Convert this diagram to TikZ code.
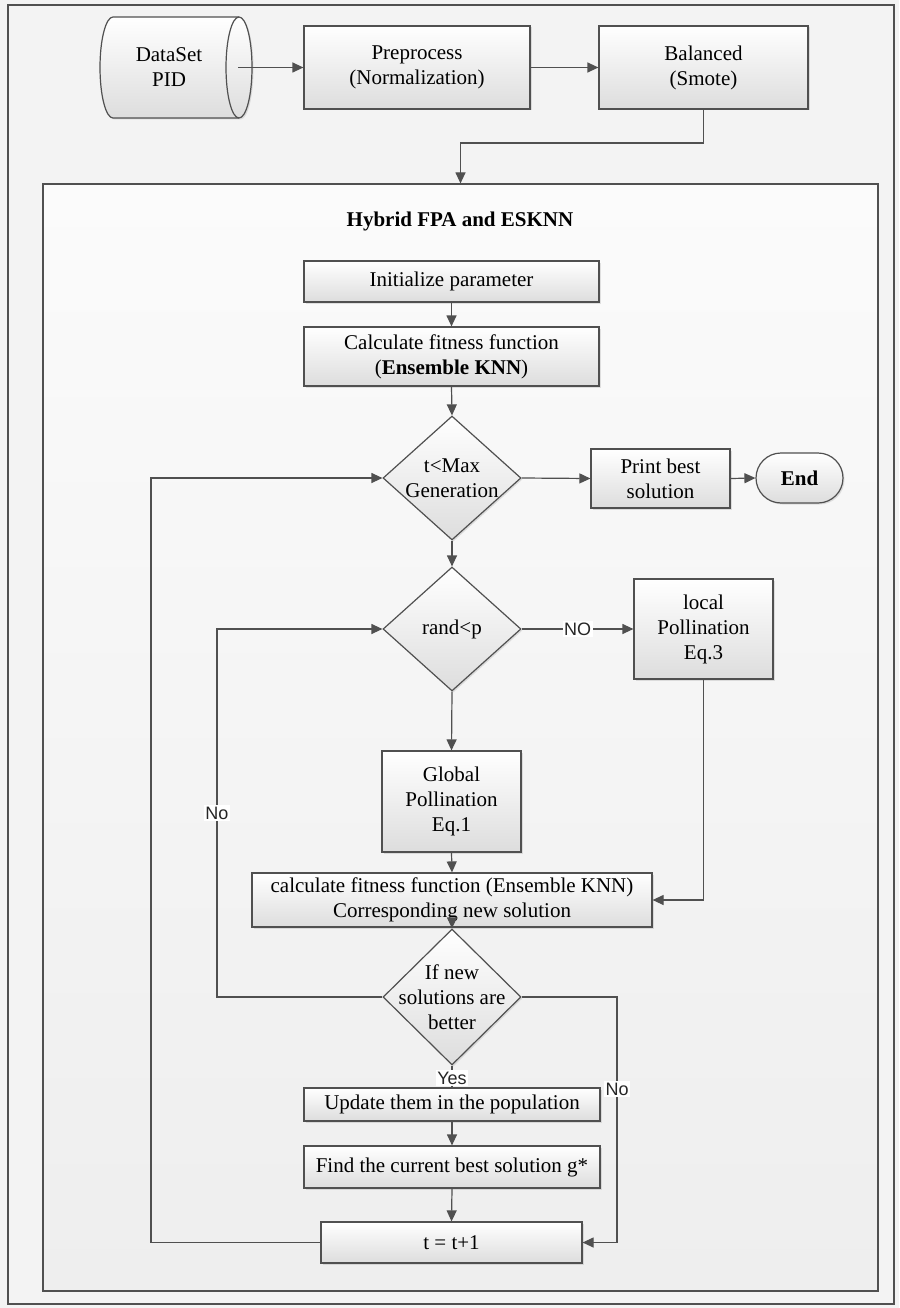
\documentclass[tikz,border=0pt]{standalone}
\usepackage{fontspec}
\setmainfont{Liberation Serif}
\newfontfamily\lblfont{Liberation Sans}
\usetikzlibrary{shapes.geometric,arrows.meta,shadows,calc}
\definecolor{ln}{HTML}{505050}
\definecolor{boxbot}{HTML}{DDDDDD}
\definecolor{bg}{HTML}{F3F3F3}
\definecolor{frtop}{HTML}{FBFBFB}
\definecolor{frbot}{HTML}{EEEEEE}
\begin{document}
\begin{tikzpicture}[x=1pt,y=-1pt,
  base/.style={draw=ln, line width=1.2pt, top color=white, bottom color=boxbot,
    font=\fontsize{21}{25}\selectfont, align=center, inner sep=0pt,
    drop shadow={shadow xshift=1.5pt, shadow yshift=-1.5pt, opacity=0.22}},
  box/.style={base, rectangle},
  dia/.style={base, diamond},
  term/.style={base, rectangle, rounded corners=25pt},
  txt/.style={font=\fontsize{21}{25}\selectfont, align=center, inner sep=0pt},
  arr/.style={draw=ln, line width=1.2pt, -{Triangle[length=11pt,width=10pt]}},
  conn/.style={draw=ln, line width=1.2pt},
  lbl/.style={font=\lblfont\fontsize{18}{20}\selectfont, fill=white, inner sep=1.5pt, text=black!85}
]
\useasboundingbox (0,0) rectangle (899,1308);
\fill[bg] (0,0) rectangle (899,1308);
\draw[ln, line width=1.2pt] (8,5) rectangle (894,1304);

% inner frame
\node[draw=ln, line width=1.2pt, top color=frtop, bottom color=frbot, inner sep=0pt,
      minimum width=835pt, minimum height=1107pt] (frame) at (460.5,737.5) {};
\node[txt, font=\fontsize{21}{25}\selectfont\bfseries] (title) at (460,221) {Hybrid FPA and ESKNN};

% top row
\path[draw=ln, line width=1.2pt, top color=white, bottom color=boxbot,
      drop shadow={shadow xshift=1.5pt, shadow yshift=-1.5pt, opacity=0.22}]
  (113,17) -- (239,17) .. controls (246.2,17) and (252,39.6) .. (252,67.5)
  .. controls (252,95.4) and (246.2,118) .. (239,118) -- (113,118)
  .. controls (105.8,118) and (100,95.4) .. (100,67.5)
  .. controls (100,39.6) and (105.8,17) .. (113,17) -- cycle;
\draw[ln, line width=1.2pt] (239,17) .. controls (231.8,17) and (226,39.6) .. (226,67.5)
  .. controls (226,95.4) and (231.8,118) .. (239,118);
\node[txt, minimum width=138pt, minimum height=101pt] (ds) at (169,67.5) {DataSet\\PID};

\node[box, minimum width=226pt, minimum height=83pt] (pre) at (417,67.5) {Preprocess\\(Normalization)};
\node[box, minimum width=209pt, minimum height=83pt] (bal) at (703.5,67.5) {Balanced\\(Smote)};

\draw[arr] (ds.east) -- (pre.west);
\draw[arr] (pre.east) -- (bal.west);
\draw[arr] (bal.south) -- (703.5,143) -- (460.5,143) -- (frame.north);

% main column
\node[box, minimum width=295pt, minimum height=41pt] (init) at (451.5,281.5) {Initialize parameter};
\node[box, minimum width=295pt, minimum height=59pt] (calc) at (451.5,356.5) {Calculate fitness function\\(\textbf{Ensemble KNN})};

\node[dia, minimum width=138pt, minimum height=124pt] (d1) at (452,478) {};
\node[txt] (d1t) at (d1) {t<Max\\Generation};
\node[box, minimum width=139pt, minimum height=59pt] (print) at (660.5,478.5) {Print best\\solution};
\node[term, minimum width=87pt, minimum height=50pt, font=\fontsize{21}{25}\selectfont\bfseries] (end) at (799.5,478) {End};

\node[dia, minimum width=138pt, minimum height=124pt] (d2) at (452,629) {};
\node[txt] (d2t) at (d2) {rand<p};
\node[box, minimum width=139pt, minimum height=100pt] (local) at (703.5,629) {local\\Pollination\\Eq.3};

\node[box, minimum width=139pt, minimum height=101pt] (global) at (451.5,801.5) {Global\\Pollination\\Eq.1};
\node[box, minimum width=400pt, minimum height=54pt] (calc2) at (452,900) {calculate fitness function (Ensemble KNN)\\Corresponding new solution};

\node[dia, minimum width=138pt, minimum height=136pt] (d3) at (452,997) {};
\node[txt] (d3t) at (d3) {If new\\solutions are\\better};

\node[box, minimum width=296pt, minimum height=33pt] (upd) at (452,1104.5) {Update them in the population};
\node[box, minimum width=296pt, minimum height=42pt] (find) at (452,1167) {Find the current best solution g*};
\node[box, minimum width=261pt, minimum height=41pt] (tinc) at (451.5,1242.5) {t = t+1};

% connectors
\draw[arr] (init.south) -- (calc.north);
\draw[arr] (calc.south) -- (d1.north);
\draw[arr] (d1.east) -- (print.west);
\draw[arr] (print.east) -- (end.west);
\draw[arr] (d1.south) -- (d2.north);
\draw[arr] (d2.east) -- (local.west) node[lbl, midway] (lno) {NO};
\draw[arr] (d2.south) -- (global.north);
\draw[arr] (global.south) -- (calc2.north);
\draw[arr] (local.south) |- (calc2.east);
\draw[arr] ([yshift=9pt]calc2.south) -- (d3.north);
\draw[arr] (d3.west) -- (217,997) -- (217,629) -- (d2.west);
\node[lbl] (lno2) at (217,813) {No};
\draw[arr] (d3.east) -- (617,997) -- (617,1242.5) -- (tinc.east);
\node[lbl] (lno3) at (617,1089) {No};
\draw[conn] (d3.south) -- (upd.north);
\node[lbl] (lyes) at (452,1078) {Yes};
\draw[arr] (upd.south) -- (find.north);
\draw[arr] (find.south) -- (tinc.north);
\draw[arr] (tinc.west) -- (151,1242.5) -- (151,478) -- (d1.west);
\end{tikzpicture}
\end{document}
